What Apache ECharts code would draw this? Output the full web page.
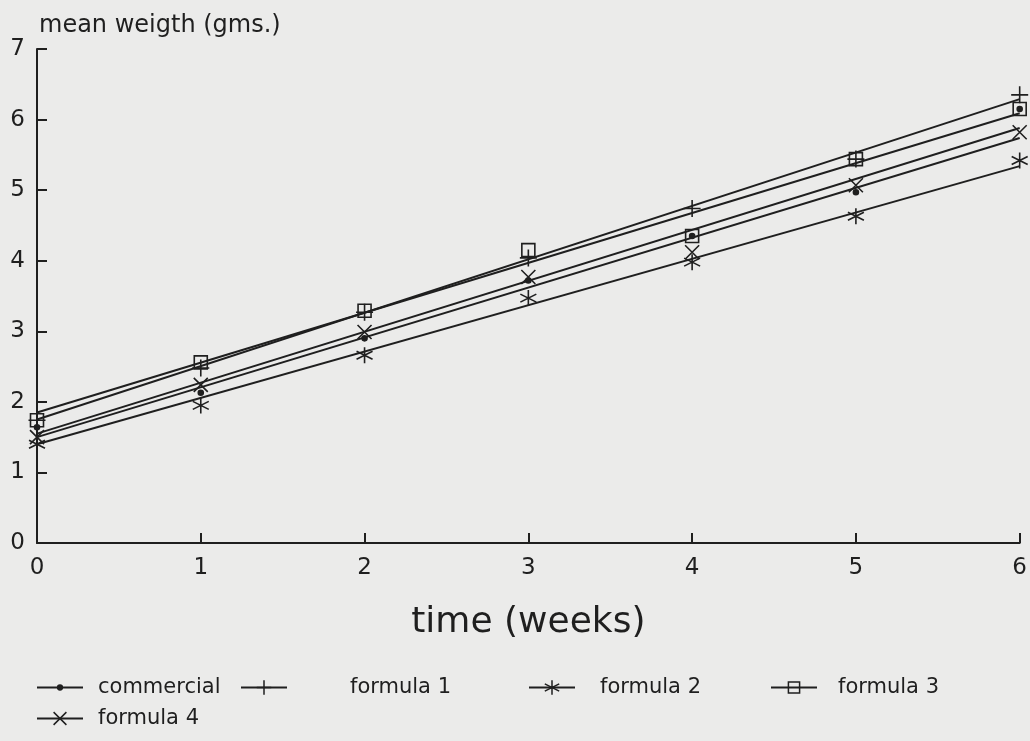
<!DOCTYPE html>
<html>
<head>
<meta charset="utf-8">
<script src="https://cdn.jsdelivr.net/npm/echarts@6/dist/echarts.min.js"></script>
<style>
html,body{margin:0;padding:0;background:#ebebea;}
#chart{width:1030px;height:741px;}
</style>
</head>
<body>
<div id="chart"></div>
<script>
// ---- data ----
var weeks = [0, 1, 2, 3, 4, 5, 6];
var yTicks = [0, 1, 2, 3, 4, 5, 6, 7];
var seriesNames = ['commercial', 'formula 1', 'formula 2', 'formula 3', 'formula 4'];

// observed mean weights (markers)
var commercial = [1.64, 2.13, 2.90, 3.72, 4.35, 4.97, 6.15];
var formula1   = [1.74, 2.48, 3.27, 4.04, 4.74, 5.44, 6.35];
var formula2   = [1.40, 1.95, 2.66, 3.47, 3.98, 4.63, 5.42];
var formula3   = [1.74, 2.56, 3.29, 4.15, 4.35, 5.44, 6.15];
var formula4   = [1.50, 2.24, 2.99, 3.77, 4.12, 5.07, 5.82];

// fitted straight lines: value at week 0 and at week 6
var fitWeeks = [0, 6];
var fitCommercial = [1.55, 5.88];
var fitFormula1   = [1.75, 6.29];
var fitFormula2   = [1.40, 5.34];
var fitFormula3   = [1.85, 6.09];
var fitFormula4   = [1.50, 5.74];

// ---- styling ----
var INK = '#1f1f1f';
var FONT = '"DejaVu Sans", "Liberation Sans", Arial, sans-serif';
var SYM = {
  plus: 'path://M0,-1 L0,1 M-1,0 L1,0',
  star: 'path://M0,-1 L0,1 M-0.87,-0.5 L0.87,0.5 M-0.87,0.5 L0.87,-0.5',
  cross: 'path://M-1,-1 L1,1 M-1,1 L1,-1',
  square: 'path://M-1,-1 L1,-1 L1,1 L-1,1 Z',
  dot: 'circle'
};

var defs = [
  {name: seriesNames[0], obs: commercial, fit: fitCommercial, sym: SYM.dot,    size: 5,  fill: INK},
  {name: seriesNames[1], obs: formula1,   fit: fitFormula1,   sym: SYM.plus,   size: 17, fill: 'rgba(0,0,0,0)'},
  {name: seriesNames[2], obs: formula2,   fit: fitFormula2,   sym: SYM.star,   size: 16, fill: 'rgba(0,0,0,0)'},
  {name: seriesNames[3], obs: formula3,   fit: fitFormula3,   sym: SYM.square, size: 13, fill: 'rgba(0,0,0,0)'},
  {name: seriesNames[4], obs: formula4,   fit: fitFormula4,   sym: SYM.cross,  size: 14, fill: 'rgba(0,0,0,0)'}
];

function pairs(xs, ys) { return xs.map(function (x, i) { return [x, ys[i]]; }); }

var series = [];
defs.forEach(function (d) {
  series.push({
    name: d.name,
    type: 'line',
    data: pairs(fitWeeks, d.fit),
    showSymbol: false,
    symbol: d.sym,
    symbolSize: d.size,
    lineStyle: {color: INK, width: 2},
    itemStyle: {color: d.fill, borderColor: INK, borderWidth: 1.6},
    silent: true,
    z: 2
  });
  series.push({
    name: d.name + ' (obs)',
    type: 'scatter',
    data: pairs(weeks, d.obs),
    symbol: d.sym,
    symbolSize: d.size,
    itemStyle: {color: d.fill, borderColor: INK, borderWidth: 1.6, opacity: 1},
    silent: true,
    z: 3
  });
});

// legend layout: one legend per item (centre line y given)
var legendPos = [
  {left: 36,  cy: 690, pad: 10, h: 6},
  {left: 240, cy: 690, pad: 58, h: 18},
  {left: 528, cy: 690, pad: 20, h: 18},
  {left: 770, cy: 690, pad: 16, h: 14},
  {left: 36,  cy: 721, pad: 10, h: 16}
];
var legends = defs.map(function (d, i) {
  var p = legendPos[i];
  return {
    data: [{name: d.name, itemStyle: {color: d.fill, borderColor: INK, borderWidth: 1.5}}],
    left: p.left,
    top: p.cy - 13,
    padding: 0,
    itemWidth: 46,
    itemHeight: p.h,
    selectedMode: false,
    textStyle: {color: INK, fontSize: 21, fontFamily: FONT, padding: [0, 0, 0, p.pad]},
    lineStyle: {color: INK, width: 2}
  };
});

var option = {
  backgroundColor: '#ebebea',
  animation: false,
  title: {
    text: 'mean weigth (gms.)',
    left: 34, top: 9,
    textStyle: {color: INK, fontSize: 24, fontWeight: 'normal', fontFamily: FONT}
  },
  legend: legends,
  grid: {left: 37, right: 9, top: 49, bottom: 198, containLabel: false},
  xAxis: {
    type: 'value',
    min: weeks[0], max: weeks[weeks.length - 1], interval: 1,
    name: 'time (weeks)',
    nameLocation: 'middle',
    nameGap: 62,
    nameTextStyle: {color: INK, fontSize: 36, fontFamily: FONT},
    axisLine: {lineStyle: {color: INK, width: 2}},
    axisTick: {inside: true, length: 10, lineStyle: {color: INK, width: 2}},
    axisLabel: {color: INK, fontSize: 23, fontFamily: FONT, margin: 14,
      formatter: function (v) { return String(v); }},
    splitLine: {show: false}
  },
  yAxis: {
    type: 'value',
    min: yTicks[0], max: yTicks[yTicks.length - 1], interval: 1,
    axisLine: {show: true, lineStyle: {color: INK, width: 2}},
    axisTick: {show: true, inside: true, length: 10, lineStyle: {color: INK, width: 2}},
    axisLabel: {color: INK, fontSize: 23, fontFamily: FONT, margin: 12},
    splitLine: {show: false}
  },
  series: series
};

var chart = echarts.init(document.getElementById('chart'), null, {renderer: 'canvas'});
chart.setOption(option);
</script>
</body>
</html>
